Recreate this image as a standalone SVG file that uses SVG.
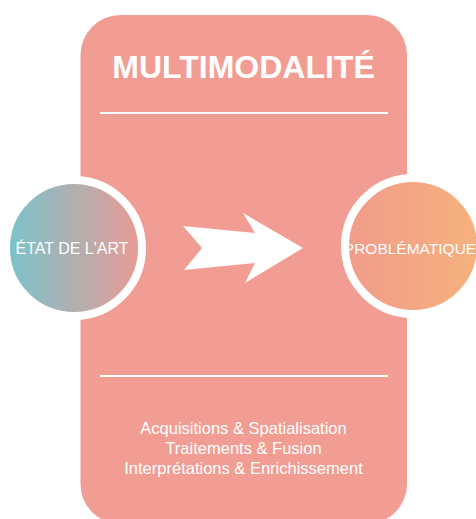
<svg xmlns="http://www.w3.org/2000/svg" width="476" height="519" viewBox="0 0 476 519">
  <defs>
    <linearGradient id="gLeft" x1="0" y1="0" x2="1" y2="0">
      <stop offset="0" stop-color="#78c4cd"/>
      <stop offset="1" stop-color="#ea9a94"/>
    </linearGradient>
    <linearGradient id="gRight" x1="0" y1="0" x2="1" y2="0">
      <stop offset="0" stop-color="#f19c8c"/>
      <stop offset="1" stop-color="#f5b27c"/>
    </linearGradient>
    <style>
      .txt { font-family: "Liberation Sans", Arial, Helvetica, sans-serif; fill: #ffffff; text-anchor: middle; }
      .rule { stroke: #ffffff; stroke-width: 2; }
      .ring { stroke: #ffffff; stroke-width: 8; }
    </style>
  </defs>
  <rect width="476" height="519" fill="#ffffff"/>
  <g id="multimodalite">
    <rect x="80.5" y="15" width="326.5" height="509" rx="40" fill="#f29d93"/>
    <text class="txt" x="243.5" y="78" font-size="32" font-weight="bold">MULTIMODALITÉ</text>
    <line class="rule" x1="100" y1="113" x2="388" y2="113"/>
    <line class="rule" x1="100" y1="376" x2="388" y2="376"/>
    <text class="txt" x="243.5" y="434" font-size="16.5">Acquisitions &amp; Spatialisation</text>
    <text class="txt" x="243.5" y="454" font-size="16.5">Traitements &amp; Fusion</text>
    <text class="txt" x="243.5" y="473.5" font-size="16.5">Interprétations &amp; Enrichissement</text>
  </g>
  <g id="etat-de-lart">
    <circle class="ring" cx="74" cy="248" r="68" fill="url(#gLeft)"/>
    <text class="txt" x="72" y="254" font-size="16">ÉTAT DE L'ART</text>
  </g>
  <g id="problematique">
    <circle class="ring" cx="413" cy="246" r="68" fill="url(#gRight)"/>
    <text class="txt" x="410" y="254" font-size="15.5">PROBLÉMATIQUE</text>
  </g>
  <g id="connectors">
    <polygon points="183,226 255,233 243,213 303,248 245,283 255,263 184,270 202,248" fill="#ffffff"/>
  </g>
</svg>
